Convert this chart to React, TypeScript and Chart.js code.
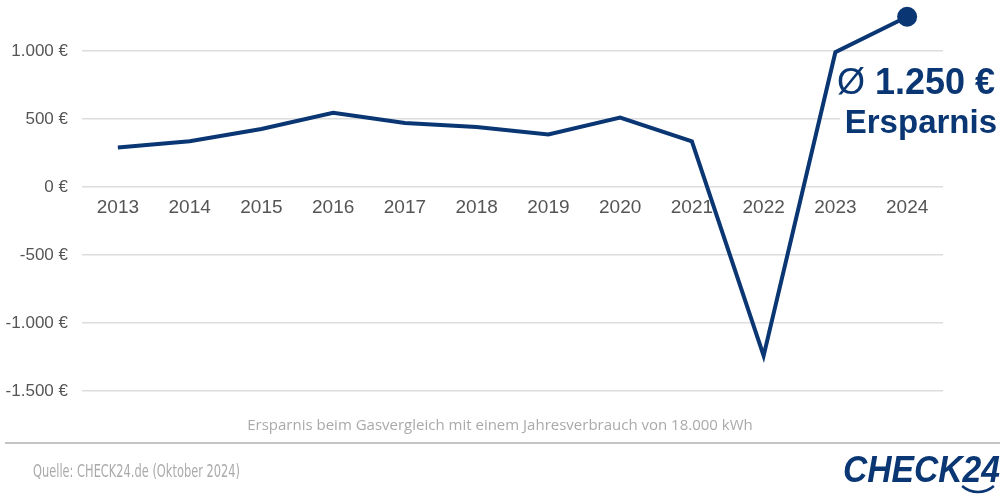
import React, { useEffect, useRef } from "react";
import { Chart, registerables } from "chart.js";

Chart.register(...registerables);

const years = ["2013", "2014", "2015", "2016", "2017", "2018", "2019", "2020", "2021", "2022", "2023", "2024"];
const savings = [290, 335, 425, 545, 470, 440, 385, 510, 335, -1240, 990, 1250];
const yTicks = [-1500, -1000, -500, 0, 500, 1000];
const avgValue = "1.250 €";
const avgSymbol = "Ø";
const avgCaption = "Ersparnis";
const subtitle = "Ersparnis beim Gasvergleich mit einem Jahresverbrauch von 18.000 kWh";
const source = "Quelle: CHECK24.de (Oktober 2024)";
const brand = "CHECK24";

const NAVY = "#0a3773";

function fmtEuro(v: number): string {
  const s = Math.abs(v).toString().replace(/\B(?=(\d{3})+(?!\d))/g, ".");
  return (v < 0 ? "-" : "") + s + " €";
}

const overlayPlugin = {
  id: "overlay",
  beforeDatasetsDraw(chart: any) {
    const ctx = chart.ctx;
    ctx.save();
    ctx.fillStyle = "#ffffff";
    ctx.fillRect(840, 58, 160, 88);
    ctx.restore();
  },
  afterDraw(chart: any) {
    const ctx = chart.ctx;
    ctx.save();
    // average annotation
    ctx.fillStyle = NAVY;
    ctx.textAlign = "right";
    ctx.textBaseline = "alphabetic";
    ctx.font = "bold 36px 'Liberation Sans', Arial, sans-serif";
    ctx.fillText(avgValue, 995, 94);
    const w = ctx.measureText(avgValue).width;
    ctx.font = "36px 'Liberation Sans', Arial, sans-serif";
    ctx.fillText(avgSymbol + " ", 995 - w, 94);
    ctx.font = "bold 33px 'Liberation Sans', Arial, sans-serif";
    ctx.fillText(avgCaption, 997, 133);

    // subtitle
    ctx.fillStyle = "#aaaaaa";
    ctx.textAlign = "center";
    ctx.font = "15px 'Open Sans', sans-serif";
    ctx.fillText(subtitle, 500, 430);

    // separator
    ctx.strokeStyle = "#c4c4c4";
    ctx.lineWidth = 2;
    ctx.beginPath();
    ctx.moveTo(5, 443);
    ctx.lineTo(1000, 443);
    ctx.stroke();

    // source
    ctx.textAlign = "left";
    ctx.font = "17px 'Liberation Sans Narrow', 'DejaVu Sans Condensed', 'Open Sans', sans-serif";
    ctx.save();
    ctx.translate(33, 477);
    const sw = ctx.measureText(source).width;
    ctx.scale(207 / sw, 1);
    ctx.fillText(source, 0, 0);
    ctx.restore();

    // logo
    ctx.fillStyle = NAVY;
    ctx.textAlign = "right";
    ctx.font = "italic bold 36px 'Liberation Sans', Arial, sans-serif";
    ctx.save();
    ctx.translate(1000, 482);
    const bw = ctx.measureText(brand).width;
    ctx.scale(157 / bw, 1);
    ctx.fillText(brand, 0, 0);
    ctx.restore();
    ctx.strokeStyle = NAVY;
    ctx.lineWidth = 2.5;
    ctx.beginPath();
    ctx.arc(978, 468, 24, Math.PI * 0.27, Math.PI * 0.73);
    ctx.stroke();
    ctx.restore();
  },
};

export default function App() {
  const ref = useRef<HTMLCanvasElement | null>(null);
  useEffect(() => {
    if (!ref.current) return;
    const chart = new Chart(ref.current, {
      type: "line",
      data: {
        labels: years,
        datasets: [
          {
            data: savings,
            borderColor: NAVY,
            backgroundColor: NAVY,
            borderWidth: 4,
            tension: 0,
            pointRadius: savings.map((_, i) => (i === savings.length - 1 ? 10 : 0)),
            pointHoverRadius: savings.map((_, i) => (i === savings.length - 1 ? 10 : 0)),
            pointBorderWidth: 0,
            clip: false as any,
          },
        ],
      },
      options: {
        animation: false,
        responsive: false,
        devicePixelRatio: 1,
        layout: { padding: { left: 0, right: 57, top: 7, bottom: 113 } },
        plugins: { legend: { display: false }, tooltip: { enabled: false } },
        scales: {
          x: {
            type: "category",
            offset: true,
            position: { y: 0 } as any,
            grid: { display: false, drawTicks: false },
            border: { display: false },
            ticks: {
              color: "#555555",
              padding: 9,
              maxRotation: 0,
              autoSkip: false,
              font: { family: "'Liberation Sans', Arial, sans-serif", size: 19 },
            },
          },
          y: {
            min: -1500,
            max: 1300,
            afterBuildTicks: (axis: any) => {
              axis.ticks = yTicks.map((v) => ({ value: v }));
            },
            afterFit: (axis: any) => {
              axis.width = 82;
              axis.paddingTop = 0;
              axis.paddingBottom = 0;
            },
            grid: { color: "#dddddd", lineWidth: 1.5, drawTicks: false },
            border: { display: false },
            ticks: {
              color: "#555555",
              padding: 14,
              font: { family: "'Liberation Sans', Arial, sans-serif", size: 17 },
              callback: (v: any) => fmtEuro(Number(v)),
            },
          },
        },
      },
      plugins: [overlayPlugin],
    });
    return () => chart.destroy();
  }, []);
  return (
    <div style={{ position: "absolute", left: 0, top: 0, width: 1000, height: 504, background: "#fff" }}>
      <canvas ref={ref} width={1000} height={504} style={{ display: "block", width: 1000, height: 504 }} />
    </div>
  );
}
